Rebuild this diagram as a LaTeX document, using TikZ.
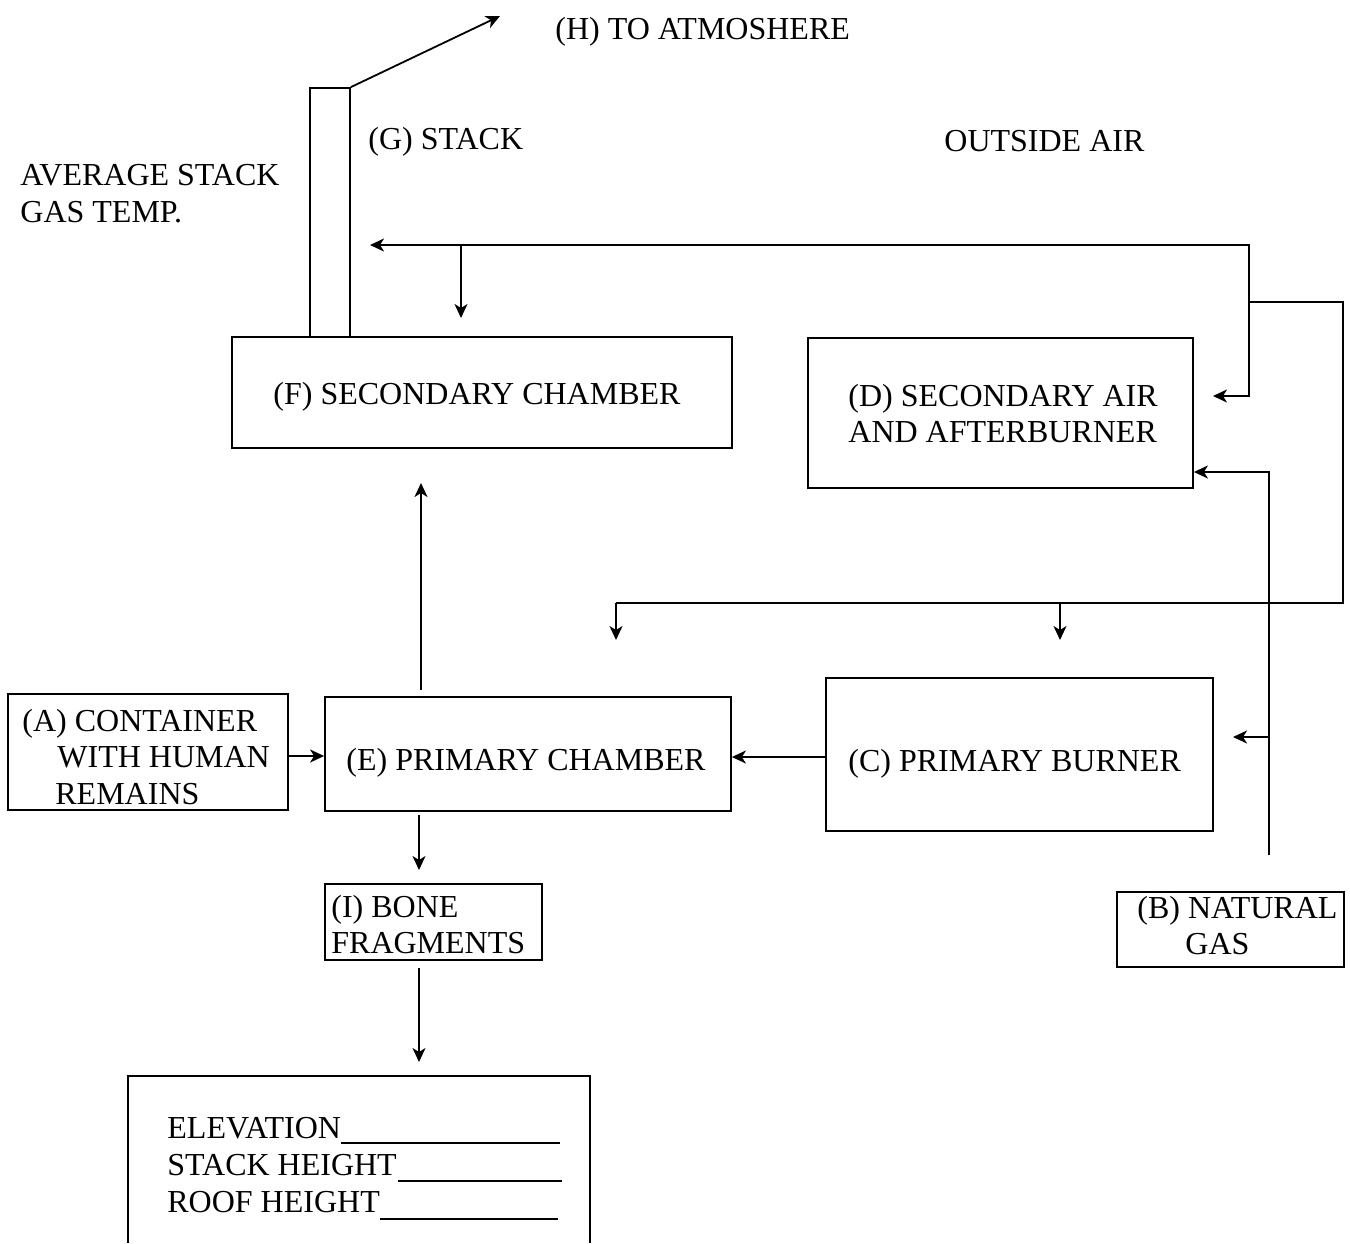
\documentclass[tikz,border=0pt]{standalone}
\usepackage{fontspec}
\setmainfont{Liberation Serif}
\usetikzlibrary{arrows.meta}
\begin{document}
\begin{tikzpicture}[x=0.5pt,y=-0.5pt,
  box/.style={draw,line width=0.9pt,inner sep=0pt},
  lbl/.style={anchor=base west,inner sep=0pt,font=\fontsize{16}{18.3}\selectfont},
  ln/.style={line width=0.9pt},
  arr/.style={line width=0.9pt,-{Stealth[length=7pt,width=6.5pt,inset=2pt]}}]
\useasboundingbox (0,0) rectangle (1350,1243);
% boxes
\node[box,minimum width=20pt,minimum height=124.5pt] (stack) at (330,212.5) {};
\node[box,minimum width=250pt,minimum height=55.5pt] (F) at (482,392.5) {};
\node[box,minimum width=192.5pt,minimum height=75pt] (D) at (1000.5,413) {};
\node[box,minimum width=193.5pt,minimum height=76.5pt] (C) at (1019.5,754.5) {};
\node[box,minimum width=203pt,minimum height=57pt] (E) at (528,754) {};
\node[box,minimum width=140pt,minimum height=58pt] (A) at (148,752) {};
\node[box,minimum width=108.5pt,minimum height=38pt] (I) at (433.5,922) {};
\node[box,minimum width=113.5pt,minimum height=37.5pt] (B) at (1230.5,929.5) {};
% bottom box (open at the bottom edge)
\coordinate (bl) at (128,1243);
\coordinate (tl) at (128,1076);
\coordinate (tr) at (590,1076);
\coordinate (br) at (590,1243);
\draw[ln] (bl) -- (tl) -- (tr) -- (br);
% texts
\node[lbl] (Htxt) at (555,39) {(H) TO ATMOSHERE};
\node[lbl] (Gtxt) at (368,149) {(G) STACK};
\node[lbl] (OA) at (944,151) {OUTSIDE AIR};
\node[lbl] (avg1) at (20,185) {AVERAGE STACK};
\node[lbl] (avg2) at (20,222) {GAS TEMP.};
\node[lbl] (Ftxt) at (273,404) {(F) SECONDARY CHAMBER};
\node[lbl] (D1) at (848,406) {(D) SECONDARY AIR};
\node[lbl] (D2) at (848,442) {AND AFTERBURNER};
\node[lbl] (Etxt) at (346,770) {(E) PRIMARY CHAMBER};
\node[lbl] (Ctxt) at (848,771) {(C) PRIMARY BURNER};
\node[lbl] (A1) at (22,731) {(A) CONTAINER};
\node[lbl] (A2) at (57,767) {WITH HUMAN};
\node[lbl] (A3) at (55,804) {REMAINS};
\node[lbl] (I1) at (331,917) {(I) BONE};
\node[lbl] (I2) at (331,953) {FRAGMENTS};
\node[lbl] (B1) at (1137,918) {(B) NATURAL};
\node[lbl] (B2) at (1185,954) {GAS};
\node[lbl] (L1) at (167,1138) {ELEVATION};
\node[lbl] (L2) at (167,1175) {STACK HEIGHT};
\node[lbl] (L3) at (167,1212) {ROOF HEIGHT};
\coordinate (u1) at (560,1143);
\coordinate (u2s) at (398,1181);
\coordinate (u2) at (562,1181);
\coordinate (u3s) at (380,1219);
\coordinate (u3) at (558,1219);
\draw[line width=0.7pt] (L1.base east |- u1) -- (u1);
\draw[line width=0.7pt] (u2s) -- (u2);
\draw[line width=0.7pt] (u3s) -- (u3);
% stack to atmosphere
\coordinate (Hend) at (500,16);
\draw[arr] (stack.north east) -- (Hend);
% outside air distribution
\coordinate (a1) at (1249,245);
\coordinate (a2) at (1249,302);
\coordinate (a3) at (1343,302);
\coordinate (a4) at (1343,603);
\coordinate (airL) at (370,245);
\coordinate (a7) at (461,245);
\coordinate (a7e) at (461,318);
\coordinate (a8) at (1249,396);
\coordinate (dIn) at (1213,396);
\coordinate (a5) at (616,603);
\coordinate (a5e) at (616,640);
\coordinate (a6) at (1060,603);
\coordinate (a6e) at (1060,640);
\draw[arr] (a2) -- (a1) -- (airL);
\draw[arr] (a7) -- (a7e);
\draw[arr] (a2) -- (a8) -- (dIn);
\draw[ln] (a2) -- (a3) -- (a4) -- (a5);
\draw[arr] (a5) -- (a5e);
\draw[arr] (a6) -- (a6e);
% natural gas
\coordinate (g0) at (1269,855);
\coordinate (g1) at (1269,472);
\coordinate (g2) at (1269,737);
\coordinate (gC) at (1233,737);
\draw[arr] (g0) -- (g1) -- (g1 -| D.east);
\draw[arr] (g2) -- (gC);
% process flow
\draw[arr] (C.west |- 0,757) -- (E.east |- 0,757);
\draw[arr] (A.east |- 0,756) -- (E.west |- 0,756);
\coordinate (eTop) at (421,690);
\coordinate (fBot) at (421,483);
\draw[arr] (eTop) -- (fBot);
\coordinate (eBot) at (419,815);
\coordinate (iTop) at (419,870);
\draw[arr] (eBot) -- (iTop);
\coordinate (iBot) at (419,968);
\coordinate (bTop) at (419,1062);
\draw[arr] (iBot) -- (bTop);
\end{tikzpicture}
\end{document}
